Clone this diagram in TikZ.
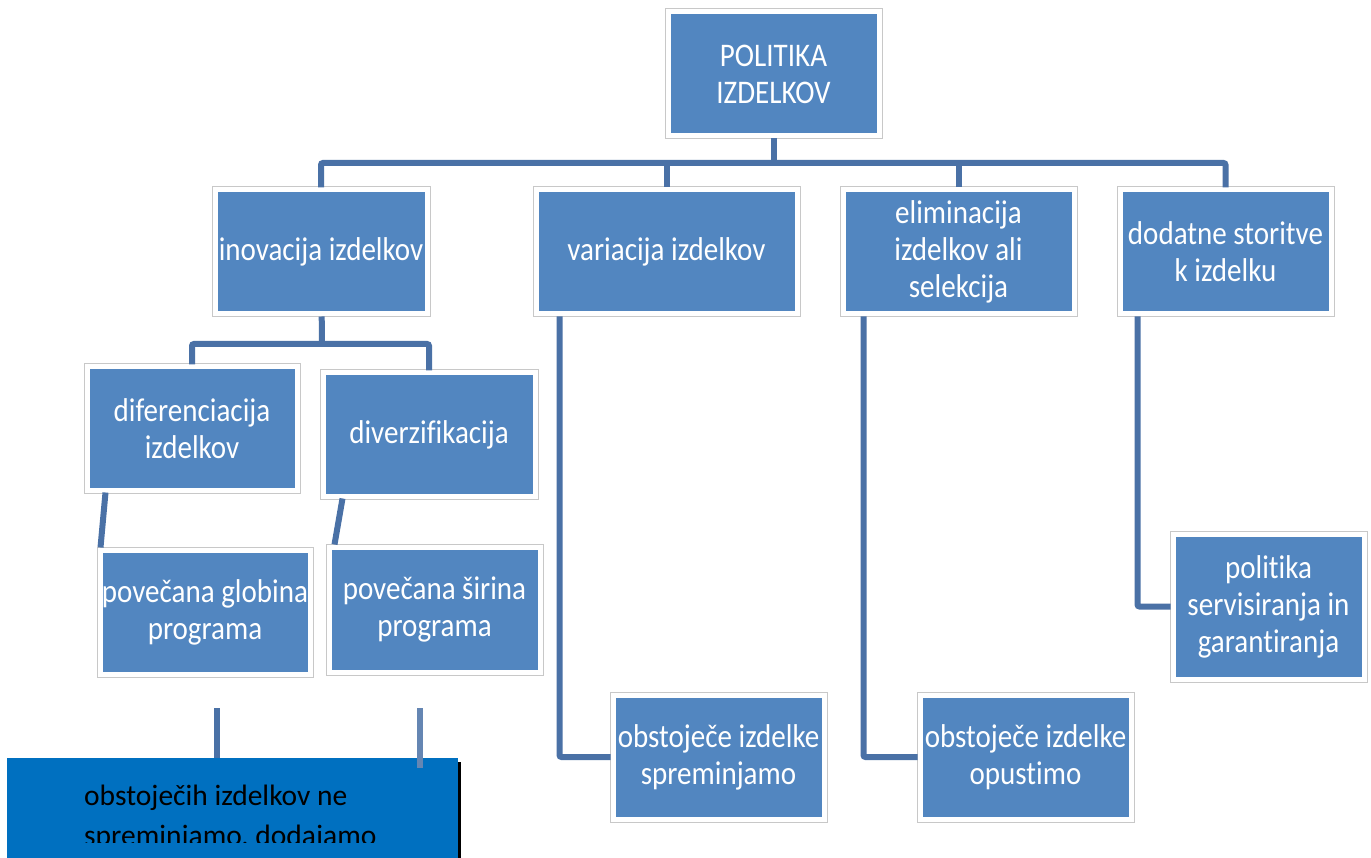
\documentclass[tikz,border=0pt]{standalone}
\usepackage{fontspec}
\setmainfont{Carlito}[Ligatures=NoCommon]
\newfontfamily\tallfont{Carlito}[Ligatures=NoCommon, FakeStretch=0.88]
\usepackage{xcolor}
\definecolor{boxblue}{HTML}{5286C0}
\definecolor{linkblue}{HTML}{4A71A6}
\definecolor{framegray}{HTML}{C8C8C8}
\definecolor{noteblue}{HTML}{0070C0}
\tikzset{
  box/.style={fill=boxblue, draw=white, line width=5pt,
    preaction={draw=framegray, line width=7pt},
    text=white, align=center, inner sep=0pt,
    font=\tallfont\fontsize{33}{37}\selectfont},
  conn/.style={draw=linkblue, line width=6pt, rounded corners=2pt},
  notebox/.style={fill=noteblue, inner sep=0pt,
    preaction={fill=black, transform canvas={shift={(3pt,-4pt)}}}},
}

\begin{document}
\begin{tikzpicture}[x=1pt, y=-1pt]
  \useasboundingbox[fill=white] (0,0) rectangle (1371,858);

  % boxes
  \node[box, minimum width=211pt, minimum height=124pt] (politika) at (773.5,74) {POLITIKA\\IZDELKOV};
  \node[box, minimum width=212pt, minimum height=124pt] (inovacija) at (321,252) {inovacija izdelkov};
  \node[box, minimum width=261pt, minimum height=124pt] (variacija) at (666.5,252) {variacija izdelkov};
  \node[box, minimum width=231pt, minimum height=124pt] (eliminacija) at (958.5,252) {eliminacija\\izdelkov ali\\selekcija};
  \node[box, minimum width=211pt, minimum height=124pt] (dodatne) at (1225.5,252) {dodatne storitve\\k izdelku};
  \node[box, minimum width=210pt, minimum height=123pt] (diferenciacija) at (192,428.5) {diferenciacija\\izdelkov};
  \node[box, minimum width=212pt, minimum height=123pt] (diverzifikacija) at (429,434.5) {diverzifikacija};
  \node[box, minimum width=210pt, minimum height=124pt] (globina) at (205,612) {povečana globina\\programa};
  \node[box, minimum width=211pt, minimum height=125pt] (sirina) at (434.5,609.5) {povečana širina\\programa};
  \node[box, minimum width=211pt, minimum height=124pt] (spreminjamo) at (718.5,757) {obstoječe izdelke\\spreminjamo};
  \node[box, minimum width=211pt, minimum height=124pt] (opustimo) at (1025.5,757) {obstoječe izdelke\\opustimo};
  \node[box, minimum width=191pt, minimum height=145pt] (servis) at (1268.5,606.5) {politika\\servisiranja in\\garantiranja};

  % connectors
  \coordinate (bus) at (773.5,163);
  \coordinate (bus2) at (322,344);
  \draw[conn] (politika) -- (bus);
  \draw[conn] (inovacija.north) |- (bus) -| (dodatne.north);
  \draw[conn] (bus -| variacija) -- (variacija);
  \draw[conn] (bus -| eliminacija) -- (eliminacija);
  \draw[conn] (inovacija) -- (bus2);
  \draw[conn] (diferenciacija.north) |- (bus2) -| (diverzifikacija.north);
  \draw[conn] ([xshift=21pt]diferenciacija.south west) -- ([xshift=3pt]globina.north west);
  \draw[conn] ([xshift=22pt]diverzifikacija.south west) -- ([xshift=8pt]sirina.north west);
  \draw[conn] ([xshift=26pt]variacija.south west) |- (spreminjamo.west);
  \draw[conn] ([xshift=23pt]eliminacija.south west) |- (opustimo.west);
  \draw[conn] ([xshift=20pt]dodatne.south west) |- (servis.west);

  % note at the bottom
  \coordinate (stubL) at (217,708);
  \coordinate (stubR) at (419.5,708);
  \draw[conn] (stubL) -- ++(0,52);
  \node[notebox, anchor=north west, minimum width=451pt, minimum height=110pt] (opis) at (7,758) {};
  \draw[conn, draw=linkblue!85!white] (stubR) -- ++(0,60);
  \begin{scope}
    \clip (opis.north west) rectangle ([yshift=-84pt]opis.north east);
    \node[anchor=base west, align=left, inner sep=0pt, font=\fontsize{29.5}{40}\selectfont] (opistext) at (84,845) {obstoječih izdelkov ne\\spreminjamo, dodajamo};
  \end{scope}
\end{tikzpicture}
\end{document}
